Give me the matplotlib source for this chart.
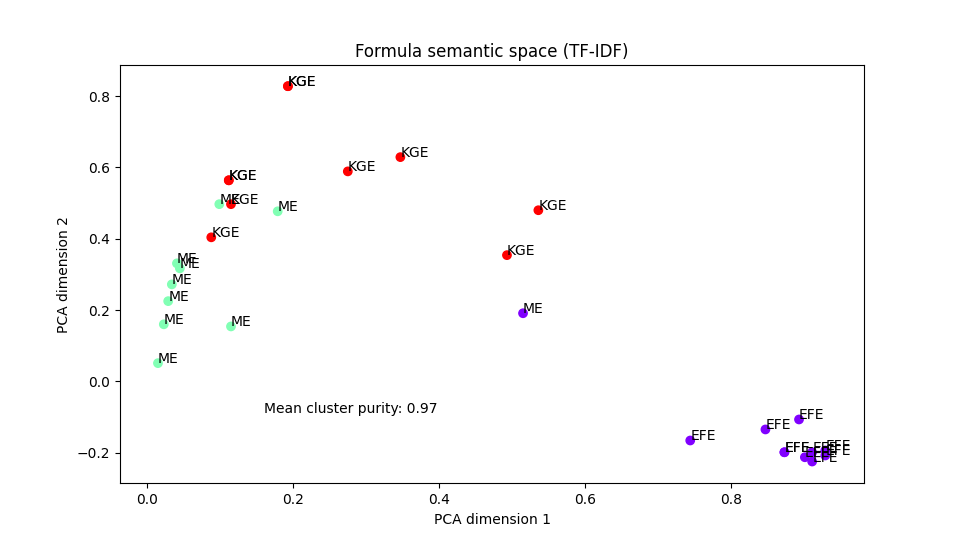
import matplotlib
matplotlib.use("Agg")
import matplotlib.pyplot as plt
import numpy as np

labels = (["KGE"] * 10) + (["ME"] * 10) + (["EFE"] * 10)
pc1 = [0.193, 0.193, 0.275, 0.347, 0.112, 0.112, 0.115, 0.088, 0.536, 0.493,
       0.099, 0.179, 0.041, 0.045, 0.034, 0.029, 0.023, 0.115, 0.015, 0.515,
       0.893, 0.847, 0.744, 0.873, 0.873, 0.901, 0.911, 0.911, 0.929, 0.929]
pc2 = [0.828, 0.828, 0.589, 0.629, 0.564, 0.564, 0.497, 0.404, 0.480, 0.354,
       0.497, 0.477, 0.331, 0.317, 0.272, 0.225, 0.160, 0.154, 0.051, 0.191,
       -0.107, -0.135, -0.166, -0.199, -0.199, -0.213, -0.225, -0.199, -0.208, -0.194]
cluster = [2] * 10 + [1] * 9 + [0] + [0] * 10
purity = 0.97

fig, ax = plt.subplots(figsize=(9.6, 5.43), dpi=100)
ax.scatter(pc1, pc2, c=cluster, cmap="rainbow")
for x, y, lab in zip(pc1, pc2, labels):
    ax.text(x, y, lab)
ax.text(0.16, -0.09, f"Mean cluster purity: {purity:.2f}")
ax.set_xlim(-0.037, 0.982)
ax.set_ylim(-0.286, 0.887)
ax.set_title("Formula semantic space (TF-IDF)")
ax.set_xlabel("PCA dimension 1")
ax.set_ylabel("PCA dimension 2")
fig.savefig("out.png")
